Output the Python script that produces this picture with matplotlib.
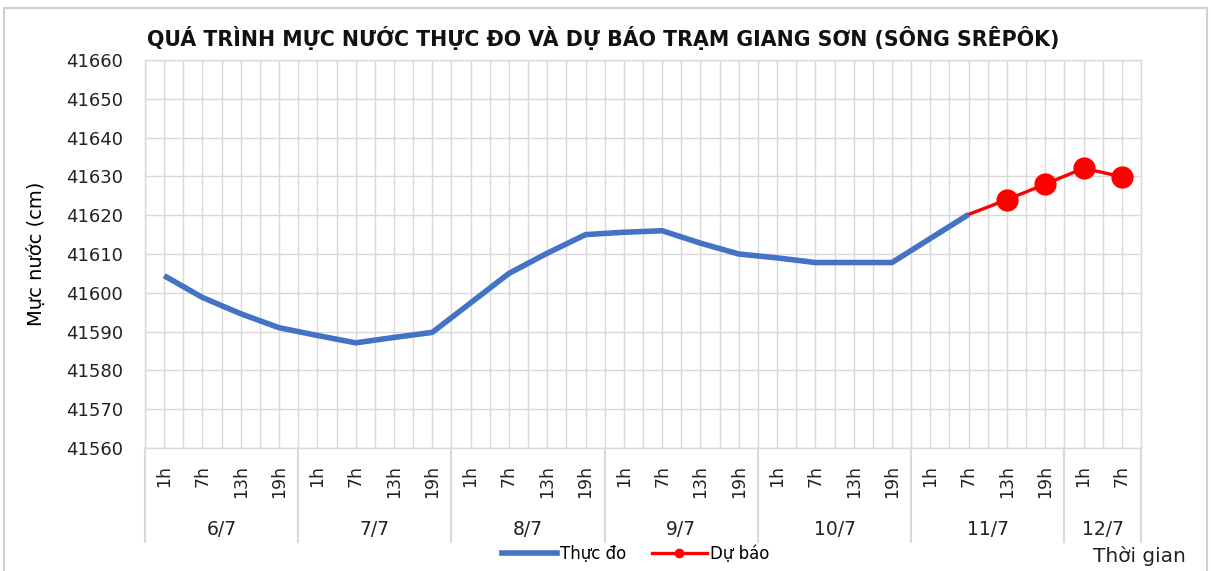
import matplotlib
matplotlib.use("Agg")
import matplotlib.pyplot as plt
import matplotlib.transforms as mtransforms
from matplotlib.lines import Line2D
from matplotlib.patches import Rectangle
import numpy as np

plt.rcParams['font.family'] = ['DejaVu Sans']

# data
days = ["6/7", "7/7", "8/7", "9/7", "10/7", "11/7", "12/7"]
hours_per_day = [4, 4, 4, 4, 4, 4, 2]
hour_labels = ["1h", "7h", "13h", "19h"] * 6 + ["1h", "7h"]
observed = [41604.4, 41598.8, 41594.6, 41591.0,
            41589.0, 41587.1, 41588.5, 41589.8,
            41597.4, 41605.0, 41610.2, 41615.0,
            41615.6, 41616.0, 41612.8, 41610.0,
            41609.0, 41607.8, 41607.8, 41607.8,
            41614.0, 41620.2]
forecast = [41620.2, 41624.0, 41628.0, 41632.1, 41629.9]
forecast_start = 21

blue = "#4472C4"
red = "#FF0000"
grid_col = "#D9D9D9"

fig = plt.figure(figsize=(12.11, 5.71), dpi=100)
ax = fig.add_axes([145 / 1211, 1 - 448 / 571, (1141 - 145) / 1211, (448 - 60) / 571])

x_obs = np.arange(len(observed))
x_fc = np.arange(forecast_start, forecast_start + len(forecast))

ax.plot(x_fc, forecast, color=red, lw=2.4, marker="o", markersize=15,
        markevery=list(range(1, len(forecast))), zorder=3)
ax.plot(x_obs, observed, color=blue, lw=4, solid_capstyle="butt", zorder=4)

ax.set_xlim(-0.5, len(hour_labels) - 0.5)
ax.set_ylim(41560, 41660)
ax.set_yticks(np.arange(41560, 41661, 10))
ax.set_xticks(np.arange(len(hour_labels)))
ax.set_xticklabels(hour_labels, rotation=90, va="top", ha="center")
ax.set_xticks(np.arange(-0.5, len(hour_labels), 1.0), minor=True)
ax.tick_params(axis="x", which="both", length=0, labelsize=12.5, pad=12, colors="#222222")
ax.tick_params(axis="y", length=0, labelsize=13, pad=16, colors="#222222")

# gridlines on each category and between categories
ax.grid(axis="y", which="major", color=grid_col, lw=1)
ax.grid(axis="x", which="both", color=grid_col, lw=1)
ax.set_axisbelow(True)
for s in ax.spines.values():
    s.set_color(grid_col)
    s.set_linewidth(1)

# date groups under the hour labels
trans = mtransforms.blended_transform_factory(ax.transData, ax.transAxes)
bounds = np.concatenate([[0], np.cumsum(hours_per_day)]) - 0.5
for b in bounds:
    ax.plot([b, b], [0, -0.243], transform=trans, color=grid_col, lw=1.5, clip_on=False)
for i, d in enumerate(days):
    c = (bounds[i] + bounds[i + 1]) / 2
    ax.text(c, -0.211, d, transform=trans, ha="center", va="center", fontsize=13.5, color="#222222")

ax.set_ylabel("Mực nước (cm)", fontsize=14, labelpad=14)
fig.text(0.498, 1 - 38 / 571, "QUÁ TRÌNH MỰC NƯỚC THỰC ĐO VÀ DỰ BÁO TRẠM GIANG SƠN (SÔNG SRÊPÔK)",
         ha="center", va="center", fontsize=14.8, fontweight="bold", color="#111111")
fig.text(1139 / 1211, 1 - 556 / 571, "Thời gian", ha="center", va="center", fontsize=14.5, color="#222222")

handles = [Line2D([], [], color=blue, lw=4),
           Line2D([], [], color=red, lw=2.4, marker="o", markersize=6)]
fig.legend(handles, ["Thực đo", "Dự báo"], loc="center", bbox_to_anchor=(0.525, 1 - 554 / 571),
           ncol=2, frameon=False, fontsize=12, handlelength=3.3, handletextpad=0.2,
           columnspacing=1.5)

fig.patches.append(Rectangle((4 / 1211, -0.01), 1203 / 1211, 1 - 8 / 571 + 0.01,
                             transform=fig.transFigure, fill=False, edgecolor="#D0D0D0", lw=1.5))

fig.savefig("out.png", dpi=100)
